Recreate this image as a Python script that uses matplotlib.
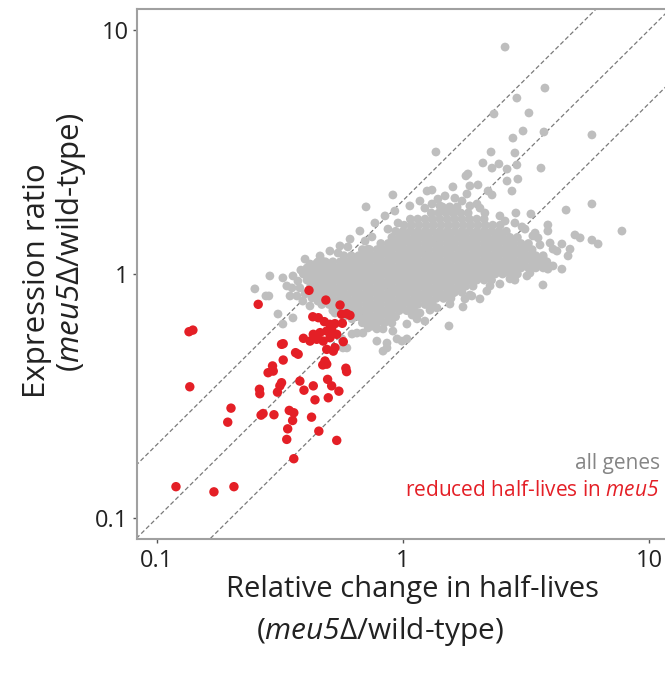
import numpy as np
import matplotlib
matplotlib.use("Agg")
import matplotlib.pyplot as plt

plt.rcParams['font.family'] = ['Open Sans', 'DejaVu Sans']
plt.rcParams['mathtext.fontset'] = 'custom'
# only the gene name goes through mathtext, so map it all (digits too) to italic
plt.rcParams['mathtext.it'] = 'Open Sans:italic'
plt.rcParams['mathtext.rm'] = 'Open Sans:italic'

# Values, stored as log10 ratios
# dense core of "all genes", one row of points per log10(expression ratio)
core_log_y = [0.275, 0.25, 0.225, 0.20, 0.175, 0.15, 0.125, 0.10, 0.075, 0.05,
              0.025, 0.0, -0.025, -0.05, -0.075, -0.10, -0.125, -0.15, -0.175, -0.20]
core_log_x = [
    [0.16, 0.19, 0.22],
    [0.115, 0.145, 0.175, 0.205, 0.235, 0.265],
    [0.03, 0.06, 0.09, 0.12, 0.15, 0.18, 0.21, 0.24, 0.27, 0.30, 0.33],
    [0.005, 0.035, 0.065, 0.095, 0.125, 0.155, 0.185, 0.215, 0.245, 0.275, 0.305, 0.335,
     0.365, 0.395],
    [-0.03, 0.00, 0.03, 0.06, 0.09, 0.12, 0.15, 0.18, 0.21, 0.24, 0.27, 0.30, 0.33, 0.36,
     0.39, 0.42],
    [-0.045, -0.015, 0.015, 0.045, 0.075, 0.105, 0.135, 0.165, 0.195, 0.225, 0.255, 0.285,
     0.315, 0.345, 0.375, 0.405, 0.435, 0.465],
    [-0.09, -0.06, -0.03, 0.00, 0.03, 0.06, 0.09, 0.12, 0.15, 0.18, 0.21, 0.24, 0.27, 0.30,
     0.33, 0.36, 0.39, 0.42, 0.45, 0.48, 0.51],
    [-0.165, -0.135, -0.105, -0.075, -0.045, -0.015, 0.015, 0.045, 0.075, 0.105, 0.135,
     0.165, 0.195, 0.225, 0.255, 0.285, 0.315, 0.345, 0.375, 0.405, 0.435, 0.465, 0.495,
     0.525],
    [-0.24, -0.21, -0.18, -0.15, -0.12, -0.09, -0.06, -0.03, 0.00, 0.03, 0.06, 0.09, 0.12,
     0.15, 0.18, 0.21, 0.24, 0.27, 0.30, 0.33, 0.36, 0.39, 0.42, 0.45, 0.48, 0.51, 0.54,
     0.57],
    [-0.345, -0.315, -0.285, -0.255, -0.225, -0.195, -0.165, -0.135, -0.105, -0.075, -0.045,
     -0.015, 0.015, 0.045, 0.075, 0.105, 0.135, 0.165, 0.195, 0.225, 0.255, 0.285, 0.315,
     0.345, 0.375, 0.405, 0.435, 0.465, 0.495, 0.525, 0.555, 0.585],
    [-0.39, -0.36, -0.33, -0.30, -0.27, -0.24, -0.21, -0.18, -0.15, -0.12, -0.09, -0.06,
     -0.03, 0.00, 0.03, 0.06, 0.09, 0.12, 0.15, 0.18, 0.21, 0.24, 0.27, 0.30, 0.33, 0.36,
     0.39, 0.42, 0.45, 0.48, 0.51, 0.54, 0.57],
    [-0.405, -0.375, -0.345, -0.315, -0.285, -0.255, -0.225, -0.195, -0.165, -0.135, -0.105,
     -0.075, -0.045, -0.015, 0.015, 0.045, 0.075, 0.105, 0.135, 0.165, 0.195, 0.225, 0.255,
     0.285, 0.315, 0.345, 0.375, 0.405, 0.435, 0.465],
    [-0.39, -0.36, -0.33, -0.30, -0.27, -0.24, -0.21, -0.18, -0.15, -0.12, -0.09, -0.06,
     -0.03, 0.00, 0.03, 0.06, 0.09, 0.12, 0.15, 0.18, 0.21, 0.24, 0.27, 0.30, 0.33, 0.36],
    [-0.375, -0.345, -0.315, -0.285, -0.255, -0.225, -0.195, -0.165, -0.135, -0.105, -0.075,
     -0.045, -0.015, 0.015, 0.045, 0.075, 0.105, 0.135, 0.165, 0.195, 0.225, 0.255, 0.285],
    [-0.36, -0.33, -0.30, -0.27, -0.24, -0.21, -0.18, -0.15, -0.12, -0.09, -0.06, -0.03,
     0.00, 0.03, 0.06, 0.09, 0.12, 0.15, 0.18, 0.21, 0.24],
    [-0.345, -0.315, -0.285, -0.255, -0.225, -0.195, -0.165, -0.135, -0.105, -0.075, -0.045,
     -0.015, 0.015, 0.045, 0.075, 0.105, 0.135, 0.165, 0.195],
    [-0.33, -0.30, -0.27, -0.24, -0.21, -0.18, -0.15, -0.12, -0.09, -0.06, -0.03, 0.00,
     0.03, 0.06, 0.09, 0.12],
    [-0.285, -0.255, -0.225, -0.195, -0.165, -0.135, -0.105, -0.075, -0.045, -0.015, 0.015,
     0.045],
    [-0.24, -0.21, -0.18, -0.15, -0.12, -0.09, -0.06, -0.03],
    [-0.165, -0.135, -0.105, -0.075],
]

# scattered "all genes" points outside the core (log10 x, log10 y)
fringe_log_x = [
    0.415, 0.577, 0.463, 0.370, 0.512, 0.447, 0.488, 0.573, 0.768, 0.134,
    0.358, 0.455, 0.325, 0.390, 0.362, 0.463, 0.561, 0.423, 0.264, 0.256,
    0.423, 0.467, 0.305, 0.272, 0.203, 0.443, 0.346, 0.362, 0.098, 0.118,
    -0.041, 0.260, 0.240, 0.142, 0.118, -0.150, 0.301, 0.313, 0.768, 0.663,
    0.459, 0.520, 0.890, 0.699, 0.720, 0.768, 0.793, 0.589, 0.589, 0.528,
    0.549, 0.646, 0.679, 0.610, 0.626, 0.671, 0.569, 0.610, 0.646, 0.504,
    0.569, -0.541, -0.488, -0.447, -0.415, -0.378, -0.329, -0.142,
    0.313, 0.252, 0.244, 0.187, 0.138, 0.069, 0.057, 0.016, -0.024, -0.004,
    -0.065, -0.081, -0.106, -0.106, -0.142, -0.187, -0.207, -0.248, -0.244,
    -0.602, -0.557, -0.472, -0.451, -0.350, -0.325, -0.508, -0.488, -0.447,
    -0.431, -0.407, -0.545, -0.370, -0.459, -0.228, -0.163, -0.122, -0.081,
    -0.041, -0.065, 0.016, 0.089,
    0.394, 0.455, 0.341, 0.280, 0.455, 0.496, 0.557, 0.394,
    0.028, 0.069, 0.171, 0.211, -0.033, -0.073, -0.114, -0.175, -0.215,
    -0.256, -0.297, -0.337, -0.398,
    -0.264, -0.224, -0.154, -0.126, -0.061, -0.020, 0.089, 0.150, 0.272, 0.333,
    0.415, 0.484, 0.537, 0.598,
    -0.346, -0.276, -0.207, -0.126, -0.045, 0.037, 0.110, 0.191, 0.272, 0.354,
    0.435, 0.516, 0.589,
    -0.427, -0.419, -0.398, -0.378,
]
fringe_log_y = [
    0.930, 0.762, 0.721, 0.656, 0.660, 0.557, 0.586, 0.582, 0.570, 0.500,
    0.500, 0.496, 0.455, 0.451, 0.434, 0.447, 0.434, 0.430, 0.410, 0.402,
    0.381, 0.389, 0.365, 0.361, 0.357, 0.340, 0.340, 0.324, 0.340, 0.344,
    0.324, 0.328, 0.299, 0.307, 0.287, 0.275, 0.287, 0.270, 0.287, 0.262,
    0.250, 0.246, 0.176, 0.160, 0.148, 0.139, 0.123, 0.201, 0.176, 0.156,
    0.148, 0.123, 0.102, 0.102, 0.094, 0.074, 0.066, 0.033, 0.020, -0.008,
    -0.045, -0.008, -0.016, -0.008, 0.016, 0.041, 0.053, 0.102,
    -0.102, -0.102, -0.135, -0.213, -0.139, -0.160, -0.184, -0.205, -0.266, -0.275,
    -0.303, -0.316, -0.275, -0.225, -0.221, -0.242, -0.246, -0.266, -0.303,
    -0.061, -0.090, -0.049, -0.057, 0.045, 0.033, -0.164, -0.205, -0.180,
    -0.090, -0.111, -0.090, -0.098, -0.090, -0.303, -0.242, -0.213, -0.225,
    -0.234, -0.283, -0.266, -0.193,
    -0.041, -0.025, -0.070, -0.090, 0.209, 0.184, 0.119, 0.238,
    0.279, 0.299, 0.320, 0.311, 0.258, 0.238, 0.209, 0.176, 0.143,
    0.115, 0.094, 0.074, 0.061,
    0.086, 0.111, 0.135, 0.152, 0.184, 0.209, 0.270, 0.279, 0.279, 0.250,
    0.217, 0.193, 0.168, 0.127,
    -0.111, -0.160, -0.184, -0.213, -0.201, -0.168, -0.148, -0.123, -0.086, -0.049,
    -0.020, 0.004, 0.020,
    -0.029, -0.057, -0.082, -0.131,
]

# genes with reduced half-lives in meu5 (linear ratios)
red_x = [0.415, 0.258, 0.486, 0.555, 0.135, 0.140, 0.136, 0.430, 0.453, 0.479,
         0.505, 0.529, 0.563, 0.590, 0.609, 0.567, 0.432, 0.460, 0.490, 0.513,
         0.538, 0.505, 0.474, 0.446, 0.419, 0.394, 0.572, 0.529, 0.490, 0.521,
         0.326, 0.321, 0.366, 0.375, 0.326, 0.482, 0.472, 0.490, 0.295, 0.297,
         0.283, 0.586, 0.590, 0.381, 0.432, 0.494, 0.513, 0.549, 0.396, 0.321,
         0.316, 0.309, 0.261, 0.262, 0.439, 0.497, 0.200, 0.194, 0.270, 0.265,
         0.299, 0.345, 0.360, 0.356, 0.425, 0.340, 0.337, 0.455, 0.538, 0.360,
         0.1195, 0.1705, 0.2056]
red_y = [0.857, 0.751, 0.782, 0.746, 0.580, 0.589, 0.345, 0.668, 0.662, 0.638,
         0.622, 0.626, 0.684, 0.688, 0.677, 0.628, 0.566, 0.575, 0.584, 0.593,
         0.566, 0.548, 0.531, 0.540, 0.531, 0.545, 0.528, 0.499, 0.491, 0.483,
         0.518, 0.515, 0.476, 0.469, 0.444, 0.440, 0.424, 0.427, 0.420, 0.400,
         0.394, 0.411, 0.398, 0.364, 0.348, 0.370, 0.348, 0.331, 0.334, 0.3585,
         0.348, 0.328, 0.337, 0.323, 0.305, 0.311, 0.282, 0.247, 0.268, 0.264,
         0.265, 0.276, 0.270, 0.251, 0.259, 0.232, 0.210, 0.227, 0.208, 0.175,
         0.1344, 0.128, 0.1344]

guide_factors = [0.5, 1.0, 2.0]

gray_lx = np.concatenate([np.array(r) for r in core_log_x] + [np.array(fringe_log_x)])
gray_ly = np.concatenate([np.full(len(r), v) for r, v in zip(core_log_x, core_log_y)]
                         + [np.array(fringe_log_y)])
gray_x = 10 ** gray_lx
gray_y = 10 ** gray_ly

fig = plt.figure(figsize=(6.65, 6.73), dpi=100)
ax = fig.add_axes([137 / 665, (673 - 539) / 673, 528 / 665, 530 / 673])

xmin, xmax = 10 ** -1.081, 10 ** 1.065
ymin, ymax = 10 ** -1.086, 10 ** 1.086

line_x = np.array([0.01, 100])
for f in guide_factors:
    ax.plot(line_x, f * line_x, color='#7a7a7a', lw=0.9, ls=(0, (3.5, 2.0)), zorder=1)

ax.scatter(gray_x, gray_y, s=40, color='#bebebe', edgecolors='none', zorder=2)
ax.scatter(red_x, red_y, s=46, color='#e41f26', edgecolors='none', zorder=3)

ax.set_xscale('log')
ax.set_yscale('log')
ax.set_xlim(xmin, xmax)
ax.set_ylim(ymin, ymax)
ax.set_xticks([0.1, 1, 10])
ax.set_xticklabels(['0.1', '1', '10'])
ax.set_yticks([0.1, 1, 10])
ax.set_yticklabels(['0.1', '1', '10'])
ax.minorticks_off()
ax.tick_params(axis='both', length=3, width=1, color='#555555', labelsize=17,
               labelcolor='#222222')
ax.tick_params(axis='x', pad=4)
ax.tick_params(axis='y', pad=3)
for side in ['left', 'bottom', 'top']:
    ax.spines[side].set_color('#a0a0a0')
    ax.spines[side].set_linewidth(1.5)
ax.spines['right'].set_visible(False)

fig.text(37 / 665, 1 - 281 / 673, 'Expression ratio', rotation=90, fontsize=22.5,
         ha='center', va='center', color='#222222')
fig.text(71 / 665, 1 - 242 / 673, '($\\mathit{meu5}$Δ/wild-type)', rotation=90,
         fontsize=22.5, ha='center', va='center', color='#222222')
fig.text(412 / 665, 1 - 590 / 673, 'Relative change in half-lives', fontsize=21,
         ha='center', va='center', color='#222222')
fig.text(380 / 665, 1 - 632 / 673, '($\\mathit{meu5}$Δ/wild-type)', fontsize=21.5,
         ha='center', va='center', color='#222222')

fig.text(660 / 665, 1 - 463 / 673, 'all genes', fontsize=15, ha='right', va='center',
         color='#858585')
fig.text(660 / 665, 1 - 490 / 673, 'reduced half-lives in $\\mathit{meu5}$', fontsize=15,
         ha='right', va='center', color='#e41f26')

fig.savefig('out.png', dpi=100)
